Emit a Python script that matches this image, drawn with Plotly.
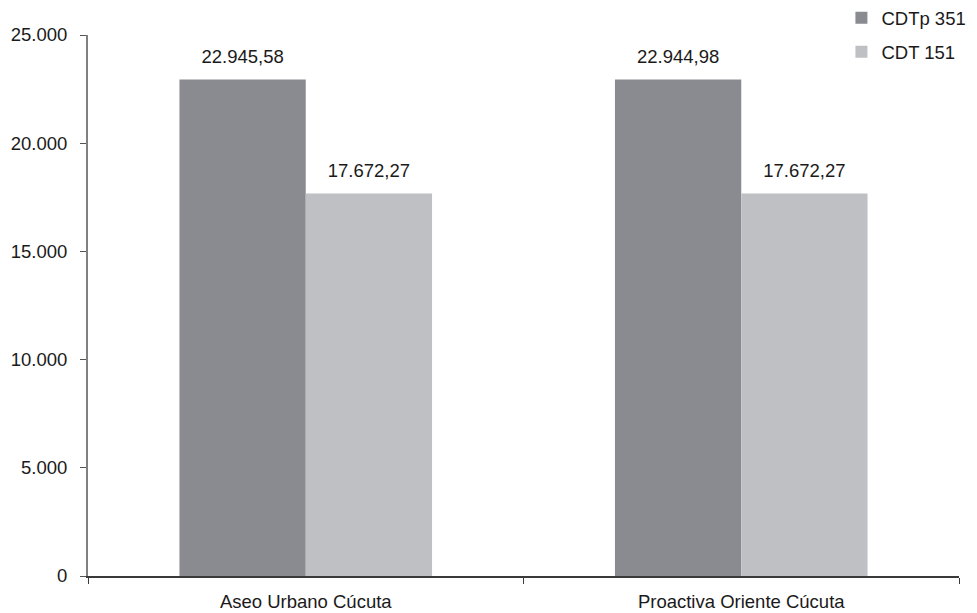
import plotly.graph_objects as go

categories = ["Aseo Urbano Cúcuta", "Proactiva Oriente Cúcuta"]
series_names = ["CDTp 351", "CDT 151"]
cdtp351 = [22945.58, 22944.98]
cdt151 = [17672.27, 17672.27]
y_ticks = [0, 5000, 10000, 15000, 20000, 25000]

font_family = "Liberation Sans, Arial, sans-serif"
FS = 18.5
label_tpl = "<span style='font-size:18.5px'>%{y:,.2f}</span><br>\u00a0"

fig = go.Figure()
fig.add_trace(go.Bar(
    name=series_names[0], x=categories, y=cdtp351,
    marker=dict(color="#898b91", line=dict(width=0)),
    texttemplate=label_tpl, textposition="outside",
    textfont=dict(size=9, color="#1a1a1a"), cliponaxis=False,
    legendgroup="a",
))
fig.add_trace(go.Bar(
    name=series_names[1], x=categories, y=cdt151,
    marker=dict(color="#bec0c4", line=dict(width=0)),
    texttemplate=label_tpl, textposition="outside",
    textfont=dict(size=9, color="#1a1a1a"), cliponaxis=False,
    legendgroup="b",
))

fig.update_layout(
    width=977, height=613,
    margin=dict(l=88, r=18, t=35, b=37, autoexpand=False),
    paper_bgcolor="white", plot_bgcolor="white",
    separators=",.",
    barmode="group", bargap=0.42, bargroupgap=0,
    font=dict(family=font_family, size=FS, color="#1a1a1a"),
    showlegend=True,
    legend=dict(x=0.865, y=1.066, xanchor="left", yanchor="top",
                traceorder="grouped", tracegroupgap=7,
                font=dict(size=FS), bgcolor="rgba(0,0,0,0)"),
    xaxis=dict(showline=True, linecolor="#3a3a3a", linewidth=1.5,
               ticks="outside", tickson="boundaries", ticklen=6,
               tickcolor="#3a3a3a", showgrid=False, ticklabelstandoff=8),
    yaxis=dict(range=[0, 25000], tickvals=y_ticks, tickformat=",.0f",
               showline=True, linecolor="#808080", linewidth=2,
               ticks="outside", ticklen=6, tickcolor="#555555",
               showgrid=False, zeroline=False, ticklabelstandoff=9),
)

fig.write_html("out.html",
               config={"displayModeBar": False},
               post_script="document.body.style.margin='0';document.body.style.overflow='hidden';")
